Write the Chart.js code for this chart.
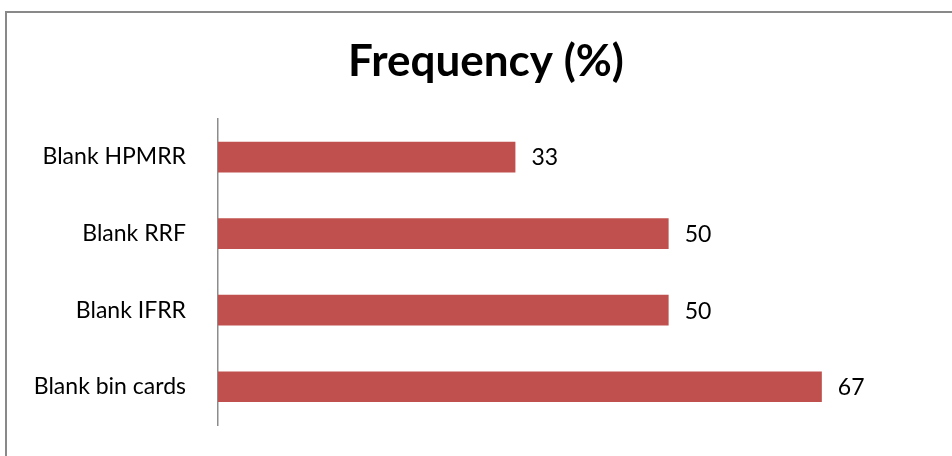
<!DOCTYPE html>
<html lang="en">
<head>
  <meta charset="UTF-8">
  <title>Frequency (%)</title>
  <script src="https://cdn.jsdelivr.net/npm/chart.js@4.4.0/dist/chart.umd.min.js"></script>
  <style>
    body { margin: 0; background: #fff; }
    #frame { position: absolute; left: 5px; top: 11px; width: 1000px; height: 500px; border: 2px solid #898989; box-sizing: border-box; }
    #wrap { position: absolute; left: 0; top: 0; width: 952px; height: 456px; }
  </style>
</head>
<body>
  <div id="frame"></div>
  <div id="wrap"><canvas id="myChart" width="952" height="456"></canvas></div>

  <script>
  var categories = ["Blank HPMRR", "Blank RRF", "Blank IFRR", "Blank bin cards"];
  var frequency = [33, 50, 50, 67];
  var axisMin = 0;
  var axisMax = 80;

  var labelFont = { family: "Lato", size: 23 };

  // draws the value just past the end of each bar
  var barValues = {
    id: 'barValues',
    afterDatasetsDraw: function(chart) {
      var ctx = chart.ctx;
      ctx.save();
      ctx.fillStyle = '#000';
      ctx.font = labelFont.size + 'px ' + labelFont.family;
      ctx.textAlign = 'left';
      ctx.textBaseline = 'middle';
      chart.getDatasetMeta(0).data.forEach(function(bar, i) {
        ctx.fillText(chart.data.datasets[0].data[i], bar.x + 16, bar.y + 1);
      });
      ctx.restore();
    }
  };

  var ctx = document.getElementById("myChart");
  var myChart = new Chart(ctx, {
    type: 'bar',
    data: {
      labels: categories,
      datasets: [{
        label: 'Frequency (%)',
        data: frequency,
        backgroundColor: "#C0504D",
        barPercentage: 1,
        categoryPercentage: 0.4
      }]
    },
    options: {
      indexAxis: 'y',
      responsive: false,
      animation: false,
      layout: { padding: { left: 33, right: 13, top: 0, bottom: 31 } },
      plugins: {
        legend: { display: false },
        tooltip: { enabled: false },
        title: {
          display: true,
          text: 'Frequency (%)',
          color: '#000',
          font: { family: "Lato", size: 44, weight: 'bold' },
          padding: { top: 35, bottom: 31 }
        }
      },
      scales: {
        x: {
          min: axisMin,
          max: axisMax,
          display: false
        },
        y: {
          grid: { display: true, drawOnChartArea: false, drawTicks: false, color: 'transparent' },
          border: { display: true, color: '#8c8c8c', width: 1.5 },
          ticks: { color: '#000', font: labelFont, padding: 32 },
          afterFit: function(scale) {
            scale.width = 185;
            scale.paddingTop = 0;
            scale.paddingBottom = 0;
          }
        }
      }
    },
    plugins: [barValues]
  });
  </script>
</body>
</html>
